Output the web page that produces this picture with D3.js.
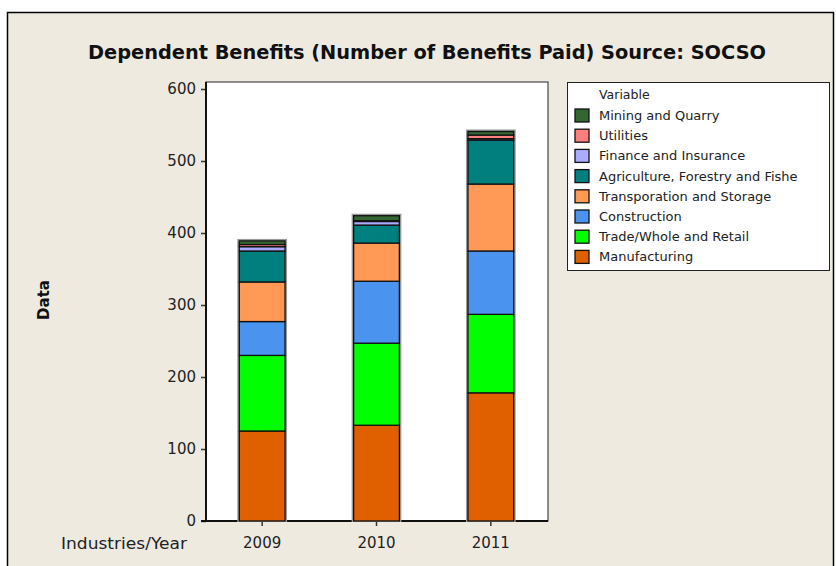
<!DOCTYPE html>
<html><head><meta charset="utf-8">
<script src="https://cdn.jsdelivr.net/npm/d3@7"></script>
<style>body{margin:0;background:#fff}svg{display:block}</style>
</head><body>
<svg id="chart" width="836" height="566"></svg>
<script>
const years = ["2009", "2010", "2011"];
const seriesNames = ["Manufacturing", "Trade/Whole and Retail", "Construction", "Transporation and Storage",
  "Agriculture, Forestry and Fishe", "Finance and Insurance", "Utilities", "Mining and Quarry"];
const manufacturing = [125, 133, 178];
const trade = [105, 114, 109];
const construction = [47, 86, 88];
const transport = [55, 53, 93];
const agriculture = [43, 25, 61];
const finance = [6, 5, 2];
const utilities = [3, 1, 5];
const mining = [5, 7, 5];
const seriesColors = ["#e06000", "#00ff00", "#4a94f0", "#ff9955", "#007f7f", "#aaaaff", "#ff7f7f", "#336633"];
const yTicks = [0, 100, 200, 300, 400, 500, 600];

const seriesValues = [manufacturing, trade, construction, transport, agriculture, finance, utilities, mining];
const rows = years.map((y, i) => {
  const r = {year: y};
  seriesNames.forEach((s, j) => r[s] = seriesValues[j][i]);
  return r;
});
const stack = d3.stack().keys(seriesNames)(rows);

const svg = d3.select("#chart");
svg.append("rect").attr("x", 0).attr("y", 0).attr("width", 836).attr("height", 566).attr("fill", "#fff");
svg.append("rect").attr("x", 7.5).attr("y", 12.5).attr("width", 826).attr("height", 570)
  .attr("fill", "#eeeae0").attr("stroke", "#000").attr("stroke-width", 1.5);

const plot = {l: 206, r: 548, t: 82, b: 521};
const y = d3.scaleLinear().domain([0, 600]).range([521, 89]);
const x = d3.scaleBand().domain(years).range([205, 548]).paddingInner(0.6).paddingOuter(0.3);

svg.append("rect").attr("x", plot.l).attr("y", plot.t).attr("width", plot.r - plot.l).attr("height", plot.b - plot.t)
  .attr("fill", "#fff").attr("stroke", "#222").attr("stroke-width", 1);

// Title
svg.append("text").attr("x", 427).attr("y", 59).attr("text-anchor", "middle")
  .attr("font-family", "DejaVu Sans Condensed, DejaVu Sans").attr("font-stretch", "condensed")
  .attr("font-weight", "bold").attr("font-size", 20).attr("fill", "#111")
  .attr("textLength", 678).attr("lengthAdjust", "spacingAndGlyphs")
  .text("Dependent Benefits (Number of Benefits Paid) Source: SOCSO");

// Y axis
const yAxis = svg.append("g").attr("transform", `translate(${plot.l},0)`)
  .call(d3.axisLeft(y).tickValues(yTicks).tickSize(5).tickPadding(5));
yAxis.select(".domain").remove();
yAxis.selectAll("line").attr("stroke", "#333").attr("stroke-width", 1.5);
yAxis.selectAll("text").attr("font-family", "DejaVu Sans").attr("font-size", 15).attr("fill", "#222");
svg.append("line").attr("x1", plot.l).attr("x2", plot.l).attr("y1", plot.t).attr("y2", plot.b + 1)
  .attr("stroke", "#111").attr("stroke-width", 2);

// X axis
const xAxis = svg.append("g").attr("transform", `translate(0,${plot.b})`)
  .call(d3.axisBottom(x).tickSize(5).tickPadding(11));
xAxis.select(".domain").remove();
xAxis.selectAll("line").attr("stroke", "#333").attr("stroke-width", 1.5);
xAxis.selectAll("text").attr("font-family", "DejaVu Sans").attr("font-size", 15).attr("fill", "#222");
svg.append("line").attr("x1", plot.l - 5).attr("x2", plot.r).attr("y1", plot.b).attr("y2", plot.b)
  .attr("stroke", "#111").attr("stroke-width", 2);

svg.append("text").attr("x", 187).attr("y", 549).attr("text-anchor", "end")
  .attr("font-family", "DejaVu Sans").attr("font-size", 15).attr("fill", "#222")
  .attr("textLength", 126).attr("lengthAdjust", "spacingAndGlyphs").text("Industries/Year");

svg.append("text").attr("transform", "translate(49,300) rotate(-90)").attr("text-anchor", "middle")
  .attr("font-family", "DejaVu Sans").attr("font-weight", "bold").attr("font-size", 15).attr("fill", "#111").text("Data");

// Bars: gray halo then segments
const barTotals = years.map((yr, i) => d3.sum(seriesValues, v => v[i]));
svg.append("g").selectAll("rect").data(years).join("rect")
  .attr("x", d => x(d) - 1).attr("width", x.bandwidth() + 2)
  .attr("y", (d, i) => y(barTotals[i]) - 1).attr("height", (d, i) => y(0) - y(barTotals[i]) + 1)
  .attr("fill", "none").attr("stroke", "#9a9a9a").attr("stroke-width", 2);

svg.append("g").selectAll("g").data(stack).join("g")
  .attr("fill", (d, i) => seriesColors[i])
  .selectAll("rect").data(d => d).join("rect")
  .attr("x", d => x(d.data.year)).attr("width", x.bandwidth())
  .attr("y", d => y(d[1])).attr("height", d => y(d[0]) - y(d[1]))
  .attr("stroke", "#111").attr("stroke-width", 1.3);

// Legend
const lg = svg.append("g");
lg.append("rect").attr("x", 567.5).attr("y", 82.5).attr("width", 262).attr("height", 188)
  .attr("fill", "#fff").attr("stroke", "#222").attr("stroke-width", 1);
lg.append("text").attr("x", 599).attr("y", 99).attr("font-family", "DejaVu Sans").attr("font-size", 12.5)
  .attr("fill", "#222").text("Variable");
const legendOrder = seriesNames.map((s, i) => i).reverse();
legendOrder.forEach((si, k) => {
  const cy = 115.5 + k * 20.2;
  lg.append("rect").attr("x", 575).attr("y", cy - 6.5).attr("width", 14).attr("height", 13)
    .attr("fill", seriesColors[si]).attr("stroke", "#111").attr("stroke-width", 1.3);
  lg.append("text").attr("x", 599).attr("y", cy + 4.5).attr("font-family", "DejaVu Sans").attr("font-size", 13)
    .attr("fill", "#222").text(seriesNames[si]);
});
</script>
</body></html>
